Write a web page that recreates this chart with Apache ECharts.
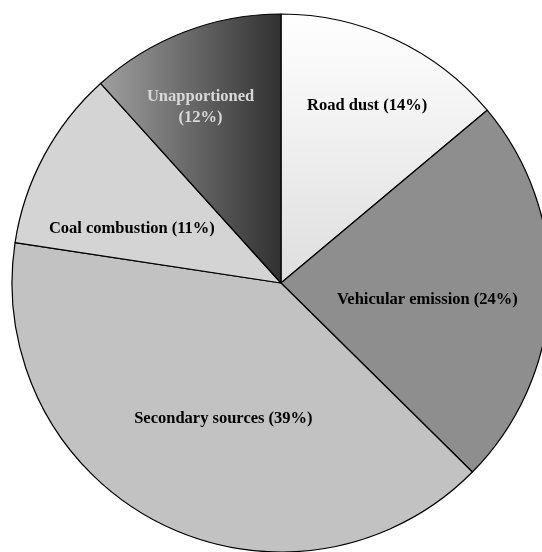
<!DOCTYPE html>
<html>
<head>
<meta charset="utf-8">
<script src="https://cdn.jsdelivr.net/npm/echarts@6/dist/echarts.min.js"></script>
<style>html,body{margin:0;padding:0;background:#fff;}#c{width:542px;height:552px;}</style>
</head>
<body>
<div id="c"></div>
<script>
// Data
var categories = ['Road dust', 'Vehicular emission', 'Secondary sources', 'Coal combustion', 'Unapportioned'];
var sliceValues = [13.9, 23.5, 40.0, 10.9, 11.7];
var labelPercents = [14, 24, 39, 11, 12];

// Styles (not data)
var fills = [
  {type:'linear', x:0, y:0, x2:0, y2:1, colorStops:[{offset:0,color:'#ffffff'},{offset:1,color:'#dedede'}]},
  '#8e8e8e',
  '#c2c2c2',
  '#d4d4d4',
  {type:'linear', x:0, y:0, x2:1, y2:0, colorStops:[{offset:0,color:'#a0a0a0'},{offset:1,color:'#303030'}]}
];
var labelColors = ['#000', '#000', '#000', '#000', '#d8d8d8'];
var labelOffsets = [[28,-53],[9,11],[4,13],[-28,11],[-31,-47]];
var labelBreak = [false, false, false, false, true];

var chart = echarts.init(document.getElementById('c'), null, {renderer:'canvas'});
var data = categories.map(function(name, i){
  return {
    name: name,
    value: sliceValues[i],
    itemStyle: {color: fills[i]},
    label: {
      color: labelColors[i],
      offset: labelOffsets[i],
      formatter: name + (labelBreak[i] ? '\n' : ' ') + '(' + labelPercents[i] + '%)'
    }
  };
});
chart.setOption({
  animation: false,
  series: [{
    type: 'pie',
    center: [281, 283],
    radius: [0, 269],
    startAngle: 90,
    clockwise: true,
    avoidLabelOverlap: false,
    itemStyle: {borderColor: '#000', borderWidth: 1.2},
    label: {
      show: true,
      position: 'inside',
      fontFamily: '"Liberation Serif", "Times New Roman", serif',
      fontWeight: 'bold',
      fontSize: 16.5,
      lineHeight: 21,
      align: 'center'
    },
    labelLine: {show: false},
    emphasis: {disabled: true},
    data: data
  }]
});
</script>
</body>
</html>
